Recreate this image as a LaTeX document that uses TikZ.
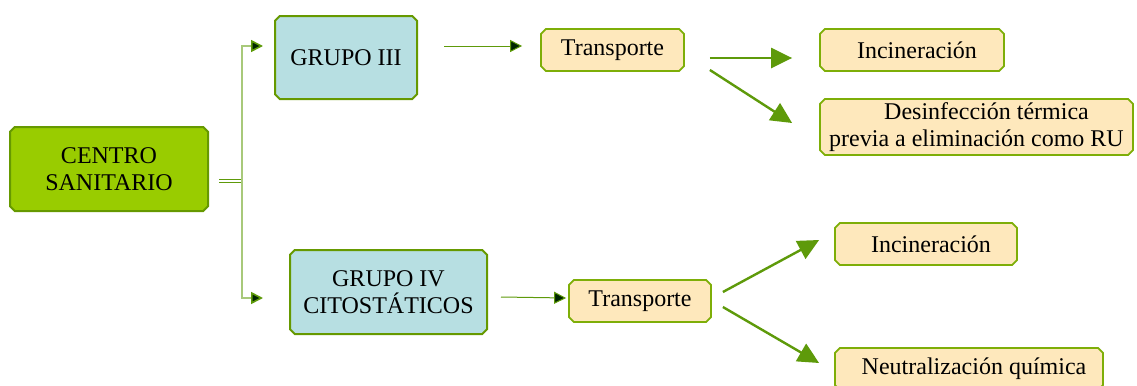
\documentclass[tikz,border=0pt]{standalone}
\usepackage{fontspec}
\setmainfont{Liberation Serif}
\usetikzlibrary{shapes.misc,arrows.meta}
\definecolor{limegreen}{HTML}{99CC00}
\definecolor{boxline}{HTML}{669900}
\definecolor{palecyan}{HTML}{B7DFE2}
\definecolor{paleorange}{HTML}{FEE8BC}
\definecolor{arrowgreen}{HTML}{5E9A0A}
\definecolor{trunkgreen}{HTML}{A8C97A}
\begin{document}
\begin{tikzpicture}[x=0.5pt,y=-0.5pt,
  box/.style={chamfered rectangle,chamfered rectangle xsep=1.2pt,chamfered rectangle ysep=1.2pt,
    draw=boxline,line width=1pt,align=center,inner sep=0pt,
    font=\fontsize{12}{13.5}\selectfont},
  centro/.style={box,fill=limegreen,minimum width=99pt,minimum height=42pt},
  grupo/.style={box,fill=palecyan,minimum height=42pt},
  paso/.style={box,fill=paleorange,line width=0.9pt,draw=arrowgreen!80!yellow,minimum height=21pt},
  thinarrow/.style={draw=arrowgreen,line width=0.5pt,-{Triangle[length=6pt,width=6pt,fill=black!85!green]}},
  trunk/.style={draw=trunkgreen,line width=0.8pt,-{Triangle[length=6pt,width=6pt,color=arrowgreen,fill=black!85!green]}},
  bigarrow/.style={draw=arrowgreen,line width=1.2pt,-{Triangle[length=10.5pt,width=10pt]}}]
\useasboundingbox (0,0) rectangle (1137,386);
\node[centro] (cs) at (109,169) {CENTRO\\SANITARIO};
\node[grupo,minimum width=71pt,minimum height=41.5pt] (g3) at (346,57.5) {GRUPO III};
\node[grupo,minimum width=98.5pt] (g4) at (388.5,292) {GRUPO IV\\CITOSTÁTICOS};
\node[paso,minimum width=71.5pt] (t3) at (612.5,50) {Transporte};
\node[paso,minimum width=92pt] (i3) at (912,50) {\hspace{5pt}Incineración};
\node[paso,minimum width=156.5pt,minimum height=28pt] (d3) at (976.5,127) {\hspace{10pt}Desinfección térmica\\previa a eliminación como RU};
\node[paso,minimum width=71pt] (t4) at (640,301) {Transporte};
\node[paso,minimum width=91pt] (i4) at (926,244) {\hspace{5pt}Incineración};
\node[paso,minimum width=134pt] (n4) at (969,369) {\hspace{5pt}Neutralización química};
\coordinate (fork) at (242,181);
\draw[draw=arrowgreen,line width=0.4pt,double,double distance=1pt] ([xshift=5pt,yshift=-6pt]cs.east) -- (fork);
\draw[trunk] (fork) |- ([xshift=-5.5pt,yshift=5.75pt]g3.west);
\draw[trunk] (fork) |- ([xshift=-13pt,yshift=-3pt]g4.west);
\draw[thinarrow] ([xshift=13pt,yshift=5.75pt]g3.east) -- ([xshift=-9pt,yshift=2pt]t3.west);
\draw[thinarrow] ([xshift=6.5pt,yshift=-2.5pt]g4.east) -- ([xshift=-1pt,yshift=1.5pt]t4.west);
\draw[bigarrow] ([xshift=12.5pt,yshift=-4pt]t3.east) -- ([xshift=-13.5pt,yshift=-4pt]i3.west);
\draw[bigarrow] ([xshift=12.5pt,yshift=-10pt]t3.east) -- ([xshift=-13.5pt,yshift=2pt]d3.west);
\draw[bigarrow] ([xshift=5.5pt,yshift=4.5pt]t4.east) -- ([xshift=-7.5pt,yshift=2pt]i4.west);
\draw[bigarrow] ([xshift=5.5pt,yshift=-3pt]t4.east) -- ([xshift=-7.5pt,yshift=3pt]n4.west);
\end{tikzpicture}
\end{document}
